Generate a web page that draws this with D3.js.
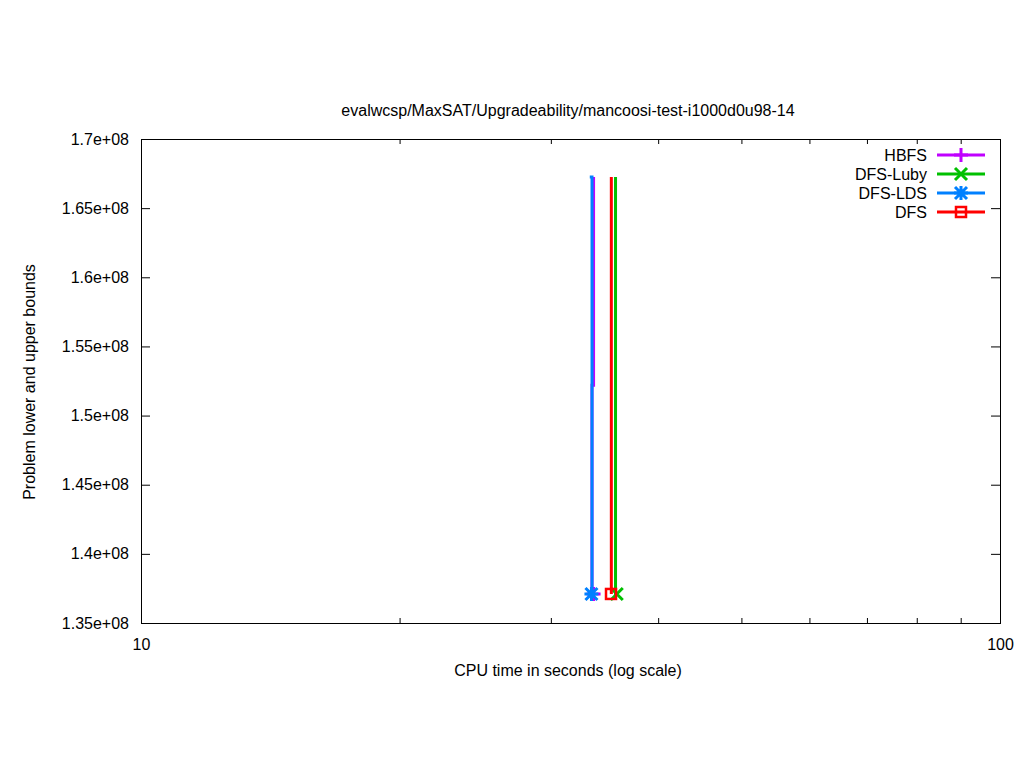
<!DOCTYPE html>
<html>
<head>
<meta charset="utf-8">
<script src="https://cdn.jsdelivr.net/npm/d3@7"></script>
<style>
  body { margin: 0; background: #fff; }
  svg { display: block; }
  text { font-family: "Liberation Sans", Arial, sans-serif; font-size: 16px; fill: #000; }
</style>
</head>
<body>
<svg id="chart" width="1024" height="768"></svg>
<script>
// series names and colours (legend order)
const seriesNames = ["HBFS", "DFS-Luby", "DFS-LDS", "DFS"];
const seriesColors = ["#c000ff", "#00c000", "#0080ff", "#ff0000"];
const seriesSymbols = ["plus", "cross", "star", "square"];

// step lines: CPU time (s) and bound values
const hbfsTime = [33.64, 33.64, 33.5, 33.5];
const hbfsBound = [1.6725e8, 1.522e8, 1.522e8, 1.371e8];
const lubyTime = [35.68, 35.68, 35.80];
const lubyBound = [1.6725e8, 1.371e8, 1.371e8];
const ldsTime = [33.3, 33.5, 33.5];
const ldsBound = [1.6725e8, 1.6725e8, 1.371e8];
const dfsTime = [35.28, 35.28];
const dfsBound = [1.6725e8, 1.371e8];

// final point markers
const markTime = [33.64, 35.80, 33.45, 35.25];
const markBound = [1.371e8, 1.371e8, 1.371e8, 1.371e8];

// axis ticks
const xTicks = [10, 100];
const xMinorTicks = [20, 30, 40, 50, 60, 70, 80, 90];
const yTicks = [1.35e8, 1.4e8, 1.45e8, 1.5e8, 1.55e8, 1.6e8, 1.65e8, 1.7e8];
const yTickLabels = ["1.35e+08", "1.4e+08", "1.45e+08", "1.5e+08", "1.55e+08", "1.6e+08", "1.65e+08", "1.7e+08"];

const titleText = "evalwcsp/MaxSAT/Upgradeability/mancoosi-test-i1000d0u98-14";
const xLabel = "CPU time in seconds (log scale)";
const yLabel = "Problem lower and upper bounds";

const svg = d3.select("#chart");
const margin = {top: 139, right: 24, bottom: 145, left: 141};
const W = 1024, H = 768;

const x = d3.scaleLog().domain([10, 100]).range([margin.left, W - margin.right]);
const y = d3.scaleLinear().domain([1.35e8, 1.7e8]).range([H - margin.bottom, margin.top]);

// bottom axis
svg.append("g")
  .attr("transform", `translate(0,${H - margin.bottom})`)
  .call(d3.axisBottom(x).tickValues(xTicks).tickSize(-9).tickPadding(16).tickFormat(d3.format("d")))
  .call(g => g.select(".domain").remove());
svg.append("g")
  .attr("transform", `translate(0,${H - margin.bottom})`)
  .call(d3.axisBottom(x).tickValues(xMinorTicks).tickSize(-5).tickFormat(""))
  .call(g => g.select(".domain").remove());
// top mirror
svg.append("g")
  .attr("transform", `translate(0,${margin.top})`)
  .call(d3.axisTop(x).tickValues(xTicks).tickSize(-9).tickFormat(""))
  .call(g => g.select(".domain").remove());
svg.append("g")
  .attr("transform", `translate(0,${margin.top})`)
  .call(d3.axisTop(x).tickValues(xMinorTicks).tickSize(-5).tickFormat(""))
  .call(g => g.select(".domain").remove());

// left axis
svg.append("g")
  .attr("transform", `translate(${margin.left},0)`)
  .call(d3.axisLeft(y).tickValues(yTicks).tickSize(-9).tickPadding(12)
    .tickFormat((d, i) => yTickLabels[i]))
  .call(g => g.select(".domain").remove());
// right mirror
svg.append("g")
  .attr("transform", `translate(${W - margin.right},0)`)
  .call(d3.axisRight(y).tickValues(yTicks).tickSize(-9).tickFormat(""))
  .call(g => g.select(".domain").remove());

svg.selectAll(".tick line").attr("stroke", "#000").attr("stroke-width", 1);
svg.selectAll(".tick text")
  .style("font-size", "16px")
  .style("font-family", "'Liberation Sans', Arial, sans-serif")
  .attr("fill", "#000");

// frame
svg.append("rect")
  .attr("x", margin.left + 0.5).attr("y", margin.top + 0.5)
  .attr("width", W - margin.right - margin.left).attr("height", H - margin.bottom - margin.top)
  .attr("fill", "none").attr("stroke", "#000").attr("stroke-width", 1);

// titles
svg.append("text").attr("x", 568).attr("y", 116).attr("text-anchor", "middle").text(titleText);
svg.append("text").attr("x", 568).attr("y", 676).attr("text-anchor", "middle").text(xLabel);
svg.append("text")
  .attr("transform", `translate(35,${(margin.top + H - margin.bottom) / 2 + 1}) rotate(-90)`)
  .attr("text-anchor", "middle").text(yLabel);

// lines
const seriesData = [
  d3.zip(hbfsTime, hbfsBound),
  d3.zip(lubyTime, lubyBound),
  d3.zip(ldsTime, ldsBound),
  d3.zip(dfsTime, dfsBound)
];
const line = d3.line().x(d => x(d[0])).y(d => y(d[1]));

const plot = svg.append("g");

// marker drawing
function drawMarker(g, sym, cx, cy, color) {
  const s = 6;
  const m = g.append("g").attr("stroke", color).attr("stroke-width", 3).attr("fill", "none");
  if (sym === "plus") {
    m.append("path").attr("d", `M${cx - s - 1},${cy}H${cx + s + 1}M${cx},${cy - s - 1}V${cy + s + 1}`);
  } else if (sym === "cross") {
    m.append("path").attr("d", `M${cx - s},${cy - s}L${cx + s},${cy + s}M${cx - s},${cy + s}L${cx + s},${cy - s}`);
  } else if (sym === "star") {
    m.append("path").attr("d", `M${cx - s},${cy - s}L${cx + s},${cy + s}M${cx - s},${cy + s}L${cx + s},${cy - s}M${cx - s - 1},${cy}H${cx + s + 1}M${cx},${cy - s - 1}V${cy + s + 1}`);
  } else {
    m.append("rect").attr("x", cx - 5).attr("y", cy - 5).attr("width", 10).attr("height", 10)
      .attr("stroke-width", 2.5);
  }
}

seriesData.forEach((pts, i) => {
  plot.append("path")
    .datum(pts)
    .attr("d", line)
    .attr("fill", "none")
    .attr("stroke", seriesColors[i])
    .attr("stroke-width", 3);
  drawMarker(plot, seriesSymbols[i], x(markTime[i]), y(markBound[i]), seriesColors[i]);
});

// legend
const legend = svg.append("g");
seriesNames.forEach((name, i) => {
  const ly = 155 + i * 19;
  legend.append("text").attr("x", 927).attr("y", ly + 6).attr("text-anchor", "end").text(name);
  legend.append("line").attr("x1", 937).attr("x2", 985).attr("y1", ly).attr("y2", ly)
    .attr("stroke", seriesColors[i]).attr("stroke-width", 3);
  drawMarker(legend, seriesSymbols[i], 961, ly, seriesColors[i]);
});
</script>
</body>
</html>
